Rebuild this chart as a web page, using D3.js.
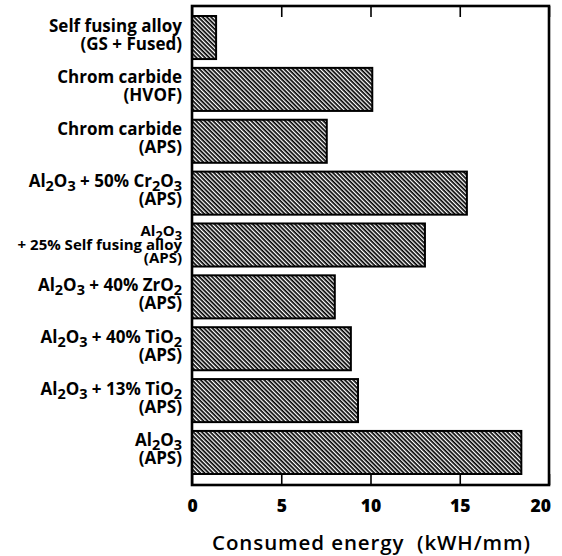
<!DOCTYPE html>
<html>
<head>
<meta charset="utf-8">
<script src="https://cdn.jsdelivr.net/npm/d3@7"></script>
<style>
  html, body { margin: 0; padding: 0; background: #fff; }
  svg { display: block; }
  text { font-family: "Open Sans", "DejaVu Sans", sans-serif; fill: #000; }
</style>
</head>
<body>
<svg id="chart" width="562" height="556"></svg>
<script>
// Category labels: "|" separates lines, "_d" marks a subscript digit
const categories = [
  "Self fusing alloy|(GS + Fused)",
  "Chrom carbide|(HVOF)",
  "Chrom carbide|(APS)",
  "Al_2O_3 + 50% Cr_2O_3|(APS)",
  "Al_2O_3|+ 25% Self fusing alloy|(APS)",
  "Al_2O_3 + 40% ZrO_2|(APS)",
  "Al_2O_3 + 40% TiO_2|(APS)",
  "Al_2O_3 + 13% TiO_2|(APS)",
  "Al_2O_3|(APS)"
];
const values = [1.35, 10.1, 7.55, 15.4, 13.05, 8.0, 8.9, 9.3, 18.45];
const xTicks = [0, 5, 10, 15, 20];
const xTitle = "Consumed energy\u00A0 (kWH/mm)";

const svg = d3.select("#chart");
const L = 192, R = 549, T = 6, B = 485;

const x = d3.scaleLinear().domain([0, 20]).range([L, R]);
const y = d3.scaleBand().domain(categories)
  .range([11.55, 478.45]).paddingInner(0.17).paddingOuter(0.086);

// hatch pattern
const defs = svg.append("defs");
const pat = defs.append("pattern")
  .attr("id", "hatch").attr("patternUnits", "userSpaceOnUse")
  .attr("width", 8).attr("height", 3.0)
  .attr("patternTransform", "rotate(45)");
pat.append("rect").attr("width", 8).attr("height", 3.0).attr("fill", "#fff");
pat.append("line").attr("x1", 0).attr("x2", 8).attr("y1", 0.85).attr("y2", 0.85)
  .attr("stroke", "#000").attr("stroke-width", 1.7);

// bars
svg.append("g").selectAll("rect").data(categories).join("rect")
  .attr("x", x(0))
  .attr("y", d => y(d))
  .attr("width", (d, i) => x(values[i]) - x(0))
  .attr("height", y.bandwidth())
  .attr("fill", "url(#hatch)")
  .attr("stroke", "#000").attr("stroke-width", 2);

// axes (inward ticks top and bottom)
const axB = svg.append("g").attr("transform", `translate(0,${B})`)
  .call(d3.axisBottom(x).tickValues(xTicks).tickSizeInner(-11).tickSizeOuter(0).tickPadding(15));
axB.select(".domain").remove();
axB.selectAll(".tick line").attr("stroke", "#000").attr("stroke-width", 1.6);
axB.selectAll(".tick text").attr("font-size", 17.5).attr("font-weight", 800)
  .attr("font-family", "'Open Sans', sans-serif");
axB.selectAll(".tick").filter(d => d === 20).select("text").attr("text-anchor", "end").attr("x", 1.5);

const axT = svg.append("g").attr("transform", `translate(0,${T})`)
  .call(d3.axisTop(x).tickValues(xTicks).tickSizeInner(-11).tickSizeOuter(0).tickFormat(""));
axT.select(".domain").remove();
axT.selectAll(".tick line").attr("stroke", "#000").attr("stroke-width", 1.6);

// frame
svg.append("rect").attr("x", L).attr("y", T).attr("width", R - L).attr("height", B - T)
  .attr("fill", "none").attr("stroke", "#000").attr("stroke-width", 2.6);

// category labels (subscripts via tspans; baseline restored on following tspan)
function addRich(textSel, str, fs) {
  const parts = str.split(/(_\d)/).filter(s => s.length);
  let shifted = false;
  parts.forEach(p => {
    if (p[0] === "_") {
      textSel.append("tspan").attr("font-size", fs * 0.85).attr("dy", shifted ? 0 : 4).text(p.slice(1));
      shifted = true;
    } else {
      const t = textSel.append("tspan").text(p);
      if (shifted) { t.attr("dy", -4); shifted = false; }
    }
  });
}
const lab = svg.append("g");
categories.forEach((c, i) => {
  const lines = c.split("|");
  const cy = y(c) + y.bandwidth() / 2;
  let fs, offs;
  if (lines.length === 3) { fs = 15; offs = [-9, 4.5, 18]; }
  else { fs = 17; offs = [-6, 12]; }
  lines.forEach((ln, k) => {
    const t = lab.append("text")
      .attr("x", 182).attr("y", cy + offs[k])
      .attr("text-anchor", "end")
      .attr("font-size", fs).attr("font-weight", 700);
    addRich(t, ln, fs);
  });
});

// x title
svg.append("text").attr("x", 212).attr("y", 550)
  .attr("font-size", 20.5).attr("font-weight", 600)
  .attr("textLength", 318).attr("lengthAdjust", "spacing")
  .text(xTitle);
</script>
</body>
</html>
